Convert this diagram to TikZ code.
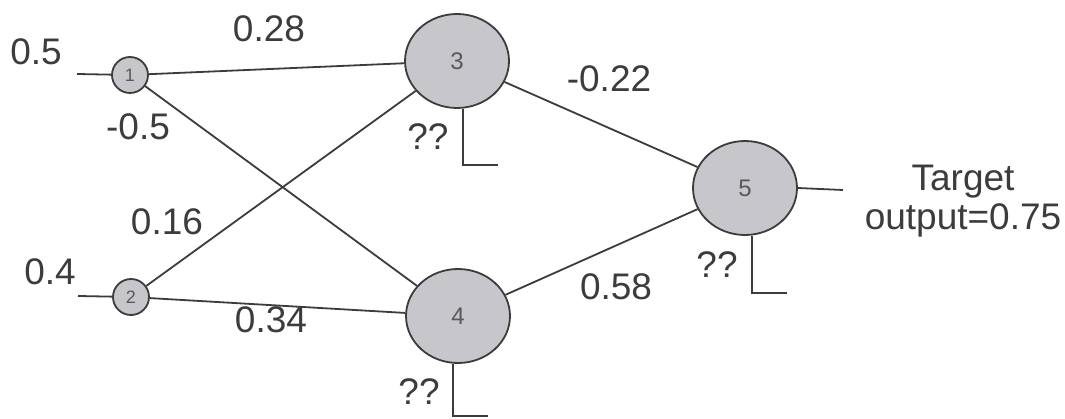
\documentclass[tikz,border=0pt]{standalone}
\usepackage{fontspec}
\setmainfont{Liberation Sans}
\usetikzlibrary{shapes.geometric}
\definecolor{nodefill}{RGB}{198,198,203}
\definecolor{ink}{RGB}{60,60,60}
\begin{document}
\begin{tikzpicture}[x=1pt,y=-1pt,
  lab/.style={font=\fontsize{37}{39}\selectfont, text=ink, inner sep=0pt},
  smallnode/.style={circle, draw=ink, fill=nodefill, line width=1.8pt, minimum size=36pt, inner sep=0pt, font=\fontsize{18}{20}\selectfont, text=ink!85},
  bignode/.style={ellipse, draw=ink, fill=nodefill, line width=1.8pt, minimum width=104pt, minimum height=94pt, inner sep=0pt, font=\fontsize{24}{26}\selectfont, text=ink!85},
  wire/.style={draw=ink, line width=1.8pt}]
\useasboundingbox (0,0) rectangle (1065,419);
\fill[white] (0,0) rectangle (1065,419);
% nodes
\node[smallnode] (n1) at (130,75) {1};
\node[smallnode] (n2) at (131,297) {2};
\node[bignode] (n3) at (457,61) {3};
\node[bignode] (n4) at (458,316) {4};
\node[bignode] (n5) at (745,188) {5};
% inputs
\coordinate (in1) at (77,74);
\coordinate (in2) at (78,296);
\draw[wire] (in1) -- (n1);
\draw[wire] (in2) -- (n2);
% connections
\draw[wire] (n1) -- (n3);
\draw[wire] (n1) -- (n4);
\draw[wire] (n2) -- (n3);
\draw[wire] (n2) -- (n4);
\draw[wire] (n3) -- (n5);
\draw[wire] (n4) -- (n5);
% output
\coordinate (out) at (843,190);
\draw[wire] (n5.east) -- (out);
% bias lines
\coordinate (b3a) at (463,165);
\coordinate (b3b) at (498,165);
\draw[wire] (b3a |- n3.south) -- (b3a) -- (b3b);
\coordinate (b4a) at (453,416);
\coordinate (b4b) at (488,416);
\draw[wire] (b4a |- n4.south) -- (b4a) -- (b4b);
\coordinate (b5a) at (752,293);
\coordinate (b5b) at (787,293);
\draw[wire] (b5a |- n5.south) -- (b5a) -- (b5b);
% labels
\node[lab] (l05) at (36,52) {0.5};
\node[lab] (l04) at (50,272) {0.4};
\node[lab] (w13) at (269,29) {0.28};
\node[lab] (w14) at (138,127) {-0.5};
\node[lab] (w23) at (167,222) {0.16};
\node[lab] (w24) at (271,320) {0.34};
\node[lab] (w35) at (609,79) {-0.22};
\node[lab] (w45) at (616,287) {0.58};
\node[lab] (q3) at (428,137) {??};
\node[lab] (q4) at (419,392) {??};
\node[lab] (q5) at (717,265) {??};
\node[lab, align=center, anchor=base] (tgt) at (963,230) {Target\\output=0.75};
\end{tikzpicture}
\end{document}
